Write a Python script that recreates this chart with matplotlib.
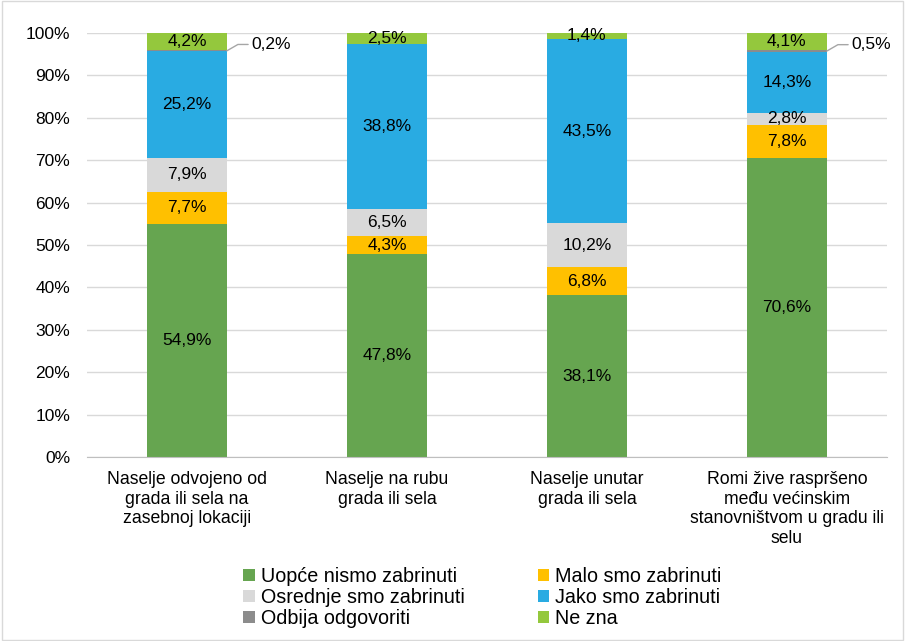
import matplotlib.pyplot as plt
import numpy as np
from matplotlib.patches import Rectangle

plt.rcParams['font.family'] = ['Liberation Sans', 'DejaVu Sans']

categories = ['Naselje odvojeno od\ngrada ili sela na\nzasebnoj lokaciji',
              'Naselje na rubu\ngrada ili sela',
              'Naselje unutar\ngrada ili sela',
              'Romi žive raspršeno\nmeđu većinskim\nstanovništvom u gradu ili\nselu']
series = ['Uopće nismo zabrinuti', 'Malo smo zabrinuti', 'Osrednje smo zabrinuti',
          'Jako smo zabrinuti', 'Odbija odgovoriti', 'Ne zna']
uopce = [54.9, 47.8, 38.1, 70.6]
malo = [7.7, 4.3, 6.8, 7.8]
osrednje = [7.9, 6.5, 10.2, 2.8]
jako = [25.2, 38.8, 43.5, 14.3]
odbija = [0.2, 0.0, 0.0, 0.5]
ne_zna = [4.2, 2.5, 1.4, 4.1]
colors = ['#66A550', '#FFC000', '#D9D9D9', '#29ABE2', '#8C8C8C', '#94C83D']

values = [uopce, malo, osrednje, jako, odbija, ne_zna]

fig = plt.figure(figsize=(9.05, 6.41), dpi=100)
ax = fig.add_axes([0.096, 0.287, 0.884, 0.6615])

x = np.arange(len(categories))
bottom = np.zeros(len(categories))
handles = []
for name, vals, col in zip(series, values, colors):
    vals = np.array(vals)
    bars = ax.bar(x, vals, 0.4, bottom=bottom, color=col, label=name, zorder=2)
    handles.append(bars)
    for i, v in enumerate(vals):
        if v <= 0:
            continue
        lab = f'{v:.1f}%'.replace('.', ',')
        if name == 'Odbija odgovoriti':
            yv = bottom[i] + v / 2
            ax.annotate(lab, xy=(x[i] + 0.2, yv), xytext=(x[i] + 0.32, yv + 1.5),
                        fontsize=12.5, va='center', ha='left',
                        arrowprops=dict(arrowstyle='-', color='#A6A6A6', lw=1,
                                        shrinkA=0, shrinkB=0,
                                        connectionstyle='angle,angleA=0,angleB=30,rad=0'))
        else:
            ax.text(x[i], bottom[i] + v / 2, lab, ha='center', va='center',
                    fontsize=12.5, color='#000000', zorder=3)
    bottom += vals

ax.set_xlim(-0.5, 3.5)
ax.set_ylim(0, 100)
ax.set_yticks(np.arange(0, 101, 10))
ax.set_yticklabels([f'{t}%' for t in range(0, 101, 10)], fontsize=12.5)
ax.set_xticks(x)
ax.set_xticklabels(categories, fontsize=12.7, linespacing=1.2)
ax.tick_params(axis='both', length=0)
ax.tick_params(axis='x', pad=10)
ax.tick_params(axis='y', pad=12)
ax.grid(axis='y', color='#D9D9D9', lw=1, zorder=0)
for s in ['top', 'right', 'left']:
    ax.spines[s].set_visible(False)
ax.spines['bottom'].set_color('#BFBFBF')
ax.spines['bottom'].set_zorder(3)

order = [0, 2, 4, 1, 3, 5]
leg = fig.legend([handles[i] for i in order], [series[i] for i in order], ncol=2,
                 loc='center', bbox_to_anchor=(0.533, 0.068), frameon=False,
                 fontsize=14.2, handlelength=0.6, handleheight=0.6,
                 handletextpad=0.3, columnspacing=3.7, labelspacing=0.1)

fig.patches.append(Rectangle((0.002, 0.002), 0.996, 0.996, transform=fig.transFigure,
                             fill=False, edgecolor='#D9D9D9', lw=1))

plt.savefig('out.png', dpi=100)
